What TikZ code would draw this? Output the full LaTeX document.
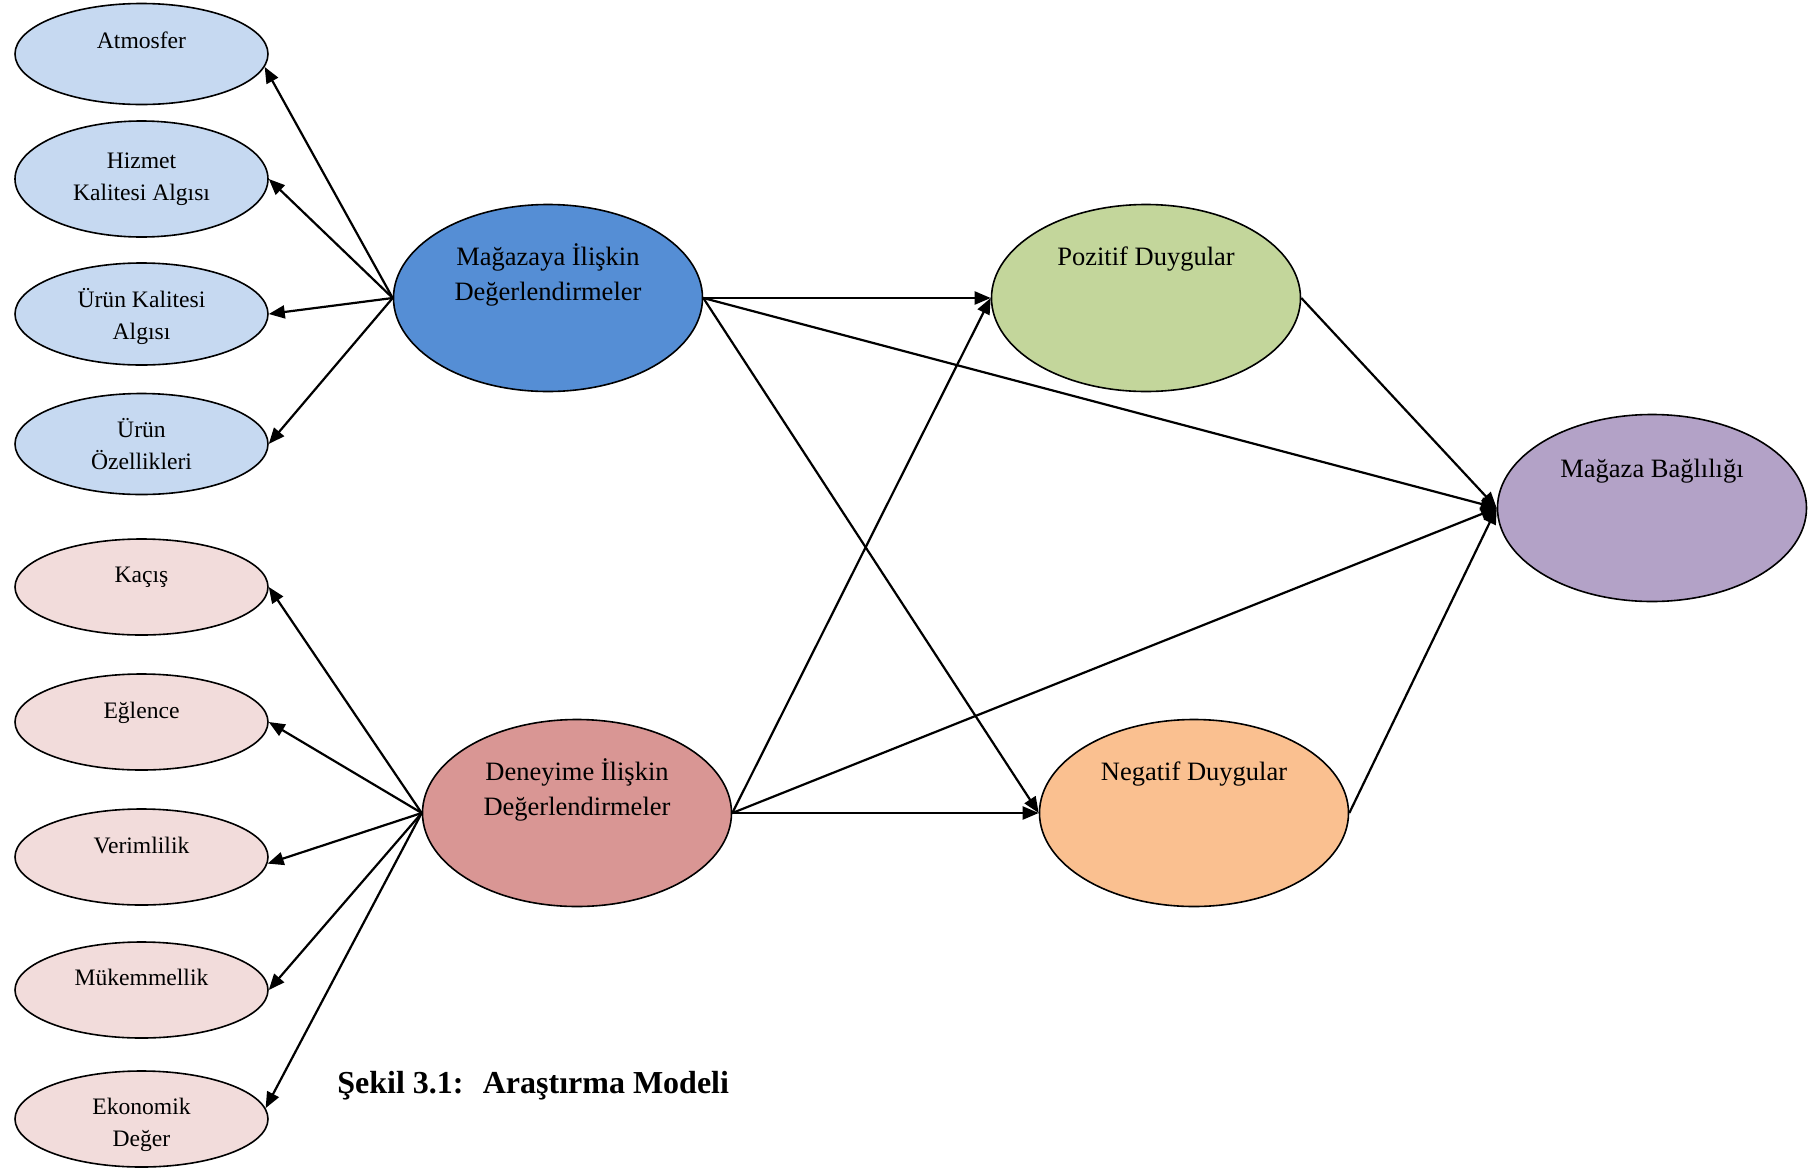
\documentclass[tikz,border=0pt]{standalone}
\usepackage{fontspec}
\setmainfont{Liberation Serif}
\usetikzlibrary{shapes.geometric,arrows.meta,calc}

\definecolor{storelight}{HTML}{C6D9F1}
\definecolor{storemain}{HTML}{558ED5}
\definecolor{explight}{HTML}{F2DCDB}
\definecolor{expmain}{HTML}{D99694}
\definecolor{posfill}{HTML}{C3D69B}
\definecolor{negfill}{HTML}{FAC090}
\definecolor{loyalfill}{HTML}{B3A2C7}

\begin{document}
\begin{tikzpicture}[x=0.5pt,y=-0.5pt,
  oval/.style={ellipse, draw=black, line width=0.8pt, inner sep=0pt},
  dimoval/.style={oval, minimum width=126.5pt},
  bigoval/.style={oval, minimum width=154.5pt, minimum height=93.5pt},
  smalltxt/.style={font=\fontsize{11.8}{16}\selectfont, align=center, anchor=base, inner sep=0pt},
  bigtxt/.style={font=\fontsize{13.25}{17.5}\selectfont, align=center, anchor=base, inner sep=0pt},
  conn/.style={-{Triangle[length=8pt,width=6.5pt]}, line width=1.1pt}]

\useasboundingbox (0,0) rectangle (1811,1168);
\fill[white] (0,0) rectangle (1811,1168);

% store-related dimensions
\node[dimoval, fill=storelight, minimum height=50.5pt] (atm) at (141.5,54) {};
\node[dimoval, fill=storelight, minimum height=58pt] (hiz) at (141.5,179) {};
\node[dimoval, fill=storelight, minimum height=51pt] (ukal) at (141.5,314) {};
\node[dimoval, fill=storelight, minimum height=50.5pt] (uoz) at (141.5,444) {};

% experience-related dimensions
\node[dimoval, fill=explight, minimum height=48pt] (kac) at (141.5,587) {};
\node[dimoval, fill=explight, minimum height=48pt] (egl) at (141.5,722) {};
\node[dimoval, fill=explight, minimum height=48pt] (ver) at (141.5,857) {};
\node[dimoval, fill=explight, minimum height=48pt] (muk) at (141.5,990) {};
\node[dimoval, fill=explight, minimum height=48pt] (eko) at (141.5,1119) {};

% main constructs
\node[bigoval, fill=storemain] (mag) at (548,298) {};
\node[bigoval, fill=expmain] (den) at (577,813) {};
\node[bigoval, fill=posfill] (poz) at (1146,298) {};
\node[bigoval, fill=negfill] (neg) at (1194,813) {};
\node[bigoval, fill=loyalfill] (bag) at (1652,508) {};

% labels (base anchor sits on the last line)
\node[smalltxt] (tatm) at ($(atm)+(0,-6)$) {Atmosfer};
\node[smalltxt] (thiz) at ($(hiz)+(0,21)$) {Hizmet\\Kalitesi Algısı};
\node[smalltxt] (tukal) at ($(ukal)+(0,25)$) {Ürün Kalitesi\\Algısı};
\node[smalltxt] (tuoz) at ($(uoz)+(0,25)$) {Ürün\\Özellikleri};
\node[smalltxt] (tkac) at ($(kac)+(0,-5)$) {Kaçış};
\node[smalltxt] (tegl) at ($(egl)+(0,-4)$) {Eğlence};
\node[smalltxt] (tver) at ($(ver)+(0,-4)$) {Verimlilik};
\node[smalltxt] (tmuk) at ($(muk)+(0,-5)$) {Mükemmellik};
\node[smalltxt] (teko) at ($(eko)+(0,27)$) {Ekonomik\\Değer};

\node[bigtxt] (tmag) at ($(mag)+(0,2)$) {Mağazaya İlişkin\\Değerlendirmeler};
\node[bigtxt] (tden) at ($(den)+(0,2)$) {Deneyime İlişkin\\Değerlendirmeler};
\node[bigtxt] (tpoz) at ($(poz)+(0,-33)$) {Pozitif Duygular};
\node[bigtxt] (tneg) at ($(neg)+(0,-33)$) {Negatif Duygular};
\node[bigtxt] (tbag) at ($(bag)+(0,-31)$) {Mağaza Bağlılığı};

% connectors to the dimensions
\draw[conn] (mag.west) -- (atm.-6);
\draw[conn] (mag.west) -- (hiz.east);
\draw[conn] (mag.west) -- (ukal.east);
\draw[conn] (mag.west) -- (uoz.east);
\draw[conn] (den.west) -- (kac.east);
\draw[conn] (den.west) -- (egl.east);
\draw[conn] (den.west) -- (ver.-3);
\draw[conn] (den.west) -- (muk.east);
\draw[conn] (den.west) -- (eko.5);

% structural paths
\draw[conn] (mag.east) -- (poz.west);
\draw[conn] (mag.east) -- (neg.west);
\draw[conn] (mag.east) -- (bag.west);
\draw[conn] (den.east) -- (poz.west);
\draw[conn] (den.east) -- (neg.west);
\draw[conn] (den.east) -- (bag.west);
\draw[conn] (poz.east) -- (bag.west);
\draw[conn] (neg.east) -- (bag.west);

% caption
\node[font=\bfseries\fontsize{16}{19}\selectfont, anchor=base west, inner sep=0pt] (cap) at (337,1093) {Şekil 3.1:\hspace{0.6em}Araştırma Modeli};
\end{tikzpicture}
\end{document}
